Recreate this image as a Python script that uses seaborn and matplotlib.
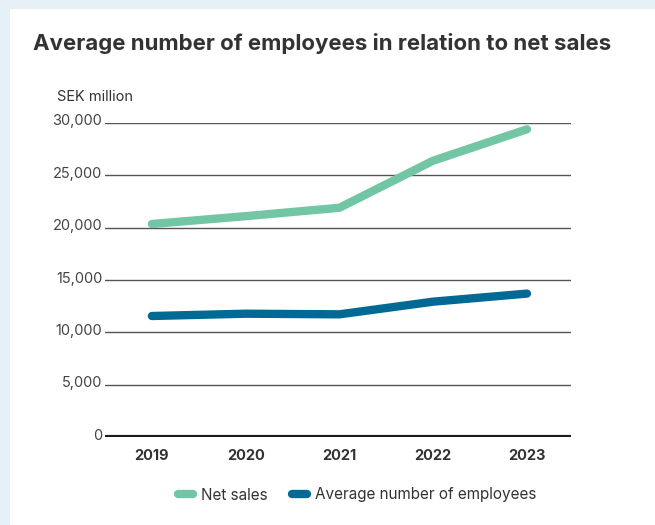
import matplotlib
matplotlib.use('Agg')
import matplotlib.pyplot as plt
import matplotlib.patches as mpatches
import matplotlib.transforms as mtransforms
import pandas as pd
import seaborn as sns

years = ['2019', '2020', '2021', '2022', '2023']
net_sales = [20350, 21100, 21900, 26400, 29400]
avg_employees = [11560, 11780, 11720, 12930, 13700]
series_names = ['Net sales', 'Average number of employees']
yticks = [0, 5000, 10000, 15000, 20000, 25000, 30000]

COLORS = {'Net sales': '#72c6a5', 'Average number of employees': '#006994'}

sns.set_style('white')
plt.rcParams['font.family'] = ['Inter', 'DejaVu Sans']

df = pd.DataFrame({
    'year': years * 2,
    'x': list(range(len(years))) * 2,
    'value': net_sales + avg_employees,
    'series': [series_names[0]] * len(years) + [series_names[1]] * len(years),
})

fig = plt.figure(figsize=(6.55, 5.25), dpi=100)
fig.patch.set_facecolor('#e7f0f7')
# white card
fig.add_artist(mpatches.Rectangle((10 / 655, 0), 1, 1 - 9 / 525,
                                  transform=fig.transFigure,
                                  facecolor='white', edgecolor='none', zorder=0))

ax = fig.add_axes([105 / 655, 1 - 437 / 525, 466 / 655, 314 / 525])
ax.set_facecolor('white')

sns.lineplot(data=df, x='x', y='value', hue='series', palette=COLORS,
             linewidth=6, ax=ax, legend=False, zorder=3)
for line in ax.get_lines():
    line.set_solid_capstyle('round')
    line.set_solid_joinstyle('round')

ax.set_xlim(-0.5, 4.47)
ax.set_ylim(0, 30000)
ax.set_xticks(range(len(years)))
ax.set_xticklabels(years, fontsize=10.5, fontweight='bold', color='#333333')
ax.set_yticks(yticks)
ax.set_yticklabels([f'{v:,}' for v in yticks], fontsize=10.5, color='#444444')
ax.tick_params(axis='both', length=0)
ax.tick_params(axis='x', pad=9)
ax.tick_params(axis='y', pad=2)
# y labels sit a little above their gridlines
shift = mtransforms.ScaledTranslation(0, 3 / 100, fig.dpi_scale_trans)
for lab in ax.get_yticklabels():
    lab.set_transform(lab.get_transform() + shift)
ax.set_xlabel('')
ax.set_ylabel('')

for v in yticks[1:]:
    ax.axhline(v, color='#555555', linewidth=1.0, zorder=1)
ax.axhline(0, color='#1a1a1a', linewidth=3, zorder=2)

for s in ax.spines.values():
    s.set_visible(False)

fig.text(33 / 655, 1 - 44 / 525, 'Average number of employees in relation to net sales',
         fontsize=16, fontweight='bold', color='#333333', va='center', ha='left')
fig.text(57 / 655, 1 - 97 / 525, 'SEK million', fontsize=10.5, color='#333333',
         va='center', ha='left')

handles = [plt.Line2D([0], [0], color=COLORS[n], linewidth=6,
                      solid_capstyle='round') for n in series_names]
fig.legend(handles, series_names, loc='center', bbox_to_anchor=(357 / 655, 1 - 495 / 525),
           ncol=2, frameon=False, fontsize=11, handlelength=1.0, handletextpad=0.5,
           columnspacing=1.6, labelcolor='#333333')

plt.savefig('out.png', dpi=100, facecolor=fig.get_facecolor())
plt.close()
